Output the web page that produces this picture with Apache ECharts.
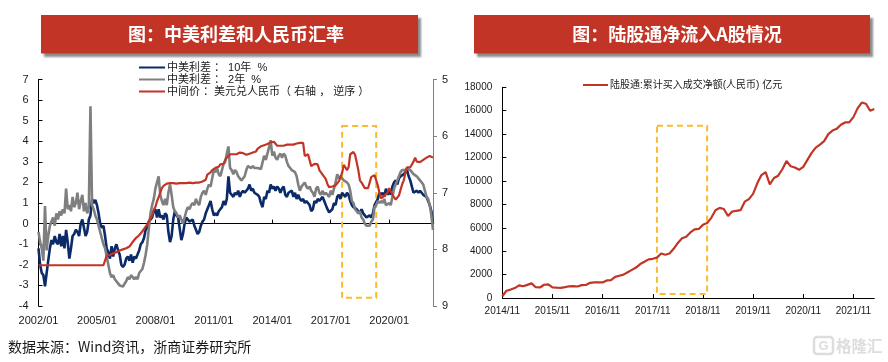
<!DOCTYPE html>
<html><head><meta charset="utf-8">
<script src="https://cdn.jsdelivr.net/npm/echarts@6/dist/echarts.min.js"></script>
<style>html,body{margin:0;padding:0;background:#fff}#c{width:888px;height:362px}</style>
</head><body><div id="c"></div>
<script>
function months(y,m,n){var a=[];for(var i=0;i<n;i++){var t=(y*12+m-1+i);a.push(Math.floor(t/12)+'/'+String(t%12+1).padStart(2,'0'));}return a;}
var monthsLeft=months(2002,1,244);
var monthsRight=months(2014,11,90);
var spread10y=[
-1.2,-2.0,-2.4,-2.5,-3.05,-2.4,-1.8,-1.2,-0.8,-1.0,-0.6,-0.9,
-1.0,-0.5,-1.1,-0.6,-1.2,-0.3,-0.9,-1.7,-1.2,-0.6,-0.5,-0.3,
-0.4,-0.6,0.0,0.2,-0.2,-0.6,-0.4,0.2,0.4,1.2,1.0,1.15,
0.9,0.5,0.0,-0.2,-0.1,-0.6,-1.2,-1.4,-1.7,-1.1,-1.6,-1.2,
-1.0,-1.3,-1.5,-2.0,-2.1,-2.0,-1.7,-1.6,-1.8,-1.5,-1.9,-1.6,
-1.7,-1.5,-1.3,-1.0,-0.9,-0.7,-0.3,-0.2,0.1,0.1,0.3,0.6,
0.7,0.3,0.7,0.3,0.4,0.2,0.5,0.4,-0.4,-0.9,-0.6,0.2,
0.6,0.4,0.3,0.3,-0.8,-0.5,0.0,0.3,0.2,0.1,0.1,0.2,
-0.1,-0.3,-0.5,-0.4,-0.1,0.1,0.2,0.5,0.7,0.9,1.1,0.7,
0.4,0.5,0.4,0.6,0.6,0.8,1.1,0.9,1.2,2.3,1.5,1.4,
1.3,1.5,1.4,1.6,1.3,1.5,1.6,1.5,1.6,1.7,1.9,1.6,
1.7,1.5,1.5,1.4,1.3,1.0,0.8,1.3,1.2,1.6,1.5,1.9,
1.7,1.8,1.6,1.8,1.7,1.5,1.7,1.8,1.4,1.3,1.5,1.5,
1.6,1.3,1.5,1.2,1.4,1.2,1.1,1.2,1.0,1.1,1.0,0.9,
0.6,0.7,1.1,1.0,1.2,1.1,1.2,1.3,1.1,0.9,0.7,0.55,
0.6,0.7,1.0,0.9,1.3,1.4,1.2,1.5,1.4,1.3,1.5,1.4,
1.1,0.9,0.8,0.8,0.7,0.6,0.5,0.7,0.5,0.4,0.3,0.35,
0.4,0.3,0.5,0.9,0.9,1.2,1.5,1.4,1.5,1.3,1.7,1.4,
1.6,1.4,1.8,2.0,2.1,1.9,2.2,2.3,2.3,2.4,2.5,2.6,
2.3,2.1,1.8,1.5,1.5,1.6,1.5,1.6,1.5,1.4,1.4,1.3,
1.3,0.9,0.6,0.0];
var spread2y=[
-0.4,-0.9,-1.2,-1.8,0.85,-1.3,-0.6,-0.1,0.1,0.3,-0.1,0.5,
0.2,0.6,0.4,0.7,0.5,1.7,0.7,0.9,0.6,1.3,0.8,1.0,
1.5,0.7,1.1,1.4,0.6,1.0,0.5,0.8,5.7,0.9,0.7,0.4,
0.2,-0.1,-0.4,-0.7,-1.0,-1.2,-1.6,-2.0,-2.4,-2.6,-2.5,-2.7,
-2.8,-2.9,-3.0,-3.0,-3.05,-3.0,-2.8,-2.6,-2.7,-2.5,-2.6,-2.7,
-2.6,-2.7,-2.4,-2.3,-2.2,-1.9,-1.5,-1.0,-0.2,0.5,0.9,1.2,
1.7,2.0,2.3,1.4,1.1,0.9,1.2,0.9,1.5,1.9,1.4,0.8,
0.6,0.5,0.3,0.4,0.2,0.0,0.3,0.6,0.8,0.7,0.9,1.0,
0.9,1.2,1.0,0.9,1.3,1.5,1.6,1.4,1.7,1.9,1.8,2.2,
2.6,2.5,2.7,2.4,2.3,2.6,2.9,3.0,3.4,3.75,2.7,2.6,
2.4,2.6,2.5,2.3,2.2,2.1,2.05,2.3,2.6,2.8,2.8,2.7,
2.8,2.7,2.75,2.7,2.7,2.65,2.7,3.3,3.1,3.4,3.7,4.05,
3.3,3.5,3.2,3.1,3.3,3.4,3.2,3.4,3.3,3.0,2.8,2.7,
2.6,2.6,2.5,2.3,1.9,1.6,1.8,1.9,2.0,1.8,1.7,1.8,
1.6,1.5,1.3,1.7,1.8,1.5,1.4,1.6,1.4,1.5,1.4,1.3,
1.6,1.4,1.7,2.0,2.4,2.2,2.3,2.2,2.1,2.1,2.0,1.9,
1.6,1.1,1.0,0.7,0.6,0.5,0.6,0.3,0.2,0.0,-0.1,-0.15,
-0.1,0.1,0.2,0.8,0.9,1.1,1.0,1.1,1.0,1.2,0.9,0.95,
1.0,0.9,1.3,1.7,1.9,2.1,2.3,2.5,2.6,2.65,2.6,2.7,
2.75,2.6,2.5,2.4,2.4,2.3,2.2,2.1,2.05,1.9,1.6,1.3,
1.2,0.9,0.4,-0.3];
var usdCny=[
8.28,8.28,8.28,8.28,8.28,8.28,8.28,8.28,8.28,8.28,8.28,8.28,
8.28,8.28,8.28,8.28,8.28,8.28,8.28,8.28,8.28,8.28,8.28,8.28,
8.28,8.28,8.28,8.28,8.28,8.28,8.28,8.28,8.28,8.28,8.28,8.28,
8.28,8.28,8.28,8.28,8.28,8.28,8.11,8.1,8.1,8.08,8.07,8.06,
8.05,8.03,8.02,8.01,8.0,7.99,7.98,7.97,7.95,7.91,7.87,7.86,
7.8,7.78,7.75,7.72,7.68,7.65,7.6,7.56,7.5,7.47,7.4,7.3,
7.25,7.15,7.08,7.0,6.92,6.88,6.85,6.84,6.84,6.83,6.84,6.83,
6.83,6.84,6.83,6.83,6.84,6.83,6.83,6.83,6.84,6.82,6.83,6.83,
6.83,6.82,6.83,6.82,6.82,6.8,6.83,6.77,6.68,6.66,6.64,6.6,
6.58,6.56,6.57,6.54,6.5,6.47,6.49,6.42,6.38,6.35,6.32,6.33,
6.32,6.31,6.32,6.3,6.29,6.3,6.3,6.31,6.33,6.32,6.31,6.31,
6.29,6.28,6.27,6.22,6.19,6.18,6.17,6.16,6.15,6.14,6.13,6.11,
6.12,6.1,6.13,6.17,6.16,6.17,6.18,6.17,6.16,6.15,6.16,6.15,
6.14,6.15,6.14,6.13,6.12,6.12,6.12,6.12,6.35,6.37,6.32,6.35,
6.53,6.52,6.49,6.47,6.5,6.6,6.63,6.68,6.67,6.76,6.85,6.9,
6.91,6.89,6.88,6.87,6.85,6.8,6.73,6.65,6.51,6.55,6.6,6.55,
6.32,6.3,6.28,6.33,6.36,6.6,6.78,6.82,6.87,6.92,6.95,6.92,
6.82,6.72,6.7,6.69,6.72,6.87,7.0,7.1,7.07,7.05,7.08,7.0,
6.92,6.9,7.03,7.08,7.12,7.1,7.05,6.95,6.85,6.78,6.65,6.55,
6.52,6.55,6.58,6.45,6.38,6.45,6.47,6.46,6.45,6.42,6.41,6.38,
6.38,6.35,6.34,6.38];
var northbound=[
150,620,720,850,1080,1000,1120,1250,920,900,1130,1170,
900,880,870,930,1000,1010,980,1100,1110,1300,1330,1340,
1330,1500,1530,1800,1900,2000,2200,2400,2600,2900,3100,3300,
3350,3450,3800,3700,3800,4200,4700,5100,5240,5600,5870,5900,
6250,6400,6850,7500,7700,7600,7000,7380,7450,7500,8230,8450,
8900,9800,10500,10750,9700,10250,10450,11000,11700,11250,11150,10950,
11200,11800,12400,12850,13100,13400,14000,14300,14450,14800,15000,15000,
15450,16200,16700,16600,16000,16150];
var names=['中美利差 ： 10年  %','中美利差 ： 2年  %','中间价 ：美元兑人民币（ 右轴 ， 逆序 ）'];
var nameRight='陆股通:累计买入成交净额(人民币) 亿元';
var titles=['图：中美利差和人民币汇率','图：陆股通净流入A股情况'];
var source='数据来源：Wind资讯，浙商证券研究所';
var FONT='Liberation Sans, Noto Sans CJK SC, sans-serif';
var RED='#C23526',NAVY='#0B2A68',GRAY='#7F7F7F',DARK='#1a1a1a',AMBER='#FBBB2E';
function box(x,w,text,tx){return [
 {type:'rect',shape:{x:x,y:15,width:w,height:38.5},style:{fill:RED,shadowColor:'rgba(0,0,0,0.45)',shadowBlur:2,shadowOffsetX:3,shadowOffsetY:3}},
 {type:'text',x:tx,y:34,style:{text:text,fill:'#fff',font:'bold 18px "Noto Sans CJK SC"',textAlign:'center',textVerticalAlign:'middle'}}
];}
function dash(a,b,c,d){return {silent:true,itemStyle:{color:'rgba(0,0,0,0)',borderColor:AMBER,borderWidth:2,borderType:[6,4]},data:[[{xAxis:a,yAxis:c},{xAxis:b,yAxis:d}]]};}
var chart=echarts.init(document.getElementById('c'),null,{renderer:'canvas'});
chart.setOption({
 animation:false,backgroundColor:'#fff',textStyle:{fontFamily:FONT},
 grid:[{left:38.5,top:79.5,width:394.5,height:226.5},{left:502.3,top:87.3,width:372,height:210.7}],
 legend:[
  {data:names,orient:'vertical',left:139,top:61.5,padding:0,itemGap:0,itemWidth:26,itemHeight:2,icon:'rect',
   textStyle:{fontSize:11,color:DARK,fontFamily:FONT,padding:[0,0,0,-3],lineHeight:12}},
  {data:[nameRight],left:583,top:79,padding:0,itemWidth:25,itemHeight:2,icon:'rect',
   textStyle:{fontSize:10,color:DARK,fontFamily:FONT,padding:[0,0,0,-3],lineHeight:12}}
 ],
 xAxis:[
  {type:'category',gridIndex:0,data:monthsLeft,boundaryGap:false,position:'bottom',axisLine:{show:false,onZero:false},axisTick:{show:false},
   axisLabel:{interval:35,fontSize:11,fontFamily:FONT,color:DARK,margin:9}},
  {type:'category',gridIndex:0,data:monthsLeft,boundaryGap:false,position:'bottom',axisLine:{onZero:true,onZeroAxisIndex:0,lineStyle:{color:'#000',width:1}},
   axisTick:{inside:true,length:4,interval:35,lineStyle:{color:'#000'}},axisLabel:{show:false}},
  {type:'category',gridIndex:1,data:monthsRight,boundaryGap:false,axisLine:{lineStyle:{color:'#000'}},
   axisTick:{inside:true,length:4,interval:11,lineStyle:{color:'#000'}},axisLabel:{interval:11,fontSize:10,fontFamily:FONT,color:DARK,margin:8}}
 ],
 yAxis:[
  {type:'value',gridIndex:0,min:-4,max:7,interval:1,splitLine:{show:false},axisLine:{show:true,lineStyle:{color:'#000'}},
   axisTick:{show:true,inside:true,length:4,lineStyle:{color:'#000'}},axisLabel:{fontSize:11,fontFamily:FONT,color:DARK,margin:10}},
  {type:'value',gridIndex:0,position:'right',inverse:true,min:5,max:9,interval:1,splitLine:{show:false},axisLine:{show:true,lineStyle:{color:GRAY}},
   axisTick:{show:true,length:4,lineStyle:{color:GRAY}},axisLabel:{fontSize:11,fontFamily:FONT,color:DARK,margin:9}},
  {type:'value',gridIndex:1,min:0,max:18000,interval:2000,splitLine:{show:false},axisLine:{show:true,lineStyle:{color:'#000'}},
   axisTick:{show:true,inside:true,length:4,lineStyle:{color:'#000'}},axisLabel:{fontSize:10,fontFamily:FONT,color:DARK,margin:10,formatter:function(v){return String(v);}}}
 ],
 series:[
  {name:names[0],type:'line',xAxisIndex:0,yAxisIndex:0,data:spread10y,symbol:'none',lineStyle:{color:NAVY,width:2.6},itemStyle:{color:NAVY},markArea:dash('2017/08','2019/05',4.74,-3.6)},
  {name:names[1],type:'line',xAxisIndex:0,yAxisIndex:0,data:spread2y,symbol:'none',lineStyle:{color:GRAY,width:2.6},itemStyle:{color:GRAY}},
  {name:names[2],type:'line',xAxisIndex:0,yAxisIndex:1,data:usdCny,symbol:'none',lineStyle:{color:RED,width:2.2},itemStyle:{color:RED}},
  {name:nameRight,type:'line',xAxisIndex:2,yAxisIndex:2,data:northbound,symbol:'none',lineStyle:{color:RED,width:2.2},itemStyle:{color:RED},markArea:dash('2017/12','2018/12',14720,340)}
 ],
 graphic:[].concat(box(41,377,titles[0],236),box(474,396,titles[1],677),[
  {type:'text',x:8,y:347,style:{text:source,fill:DARK,font:'14px "Noto Sans CJK SC"',textVerticalAlign:'middle'}},
  {type:'rect',shape:{x:814,y:337,width:19,height:17,r:3},style:{fill:'none',stroke:'#dddddd',lineWidth:2.5}},
  {type:'text',x:823.5,y:346,style:{text:'G',fill:'#dddddd',font:'bold 13px "Liberation Sans"',textAlign:'center',textVerticalAlign:'middle'}},
  {type:'text',x:836,y:346,style:{text:'格隆汇',fill:'#dddddd',font:'bold 15.5px "Noto Sans CJK SC"',textVerticalAlign:'middle'}}
 ])
});
</script></body></html>
